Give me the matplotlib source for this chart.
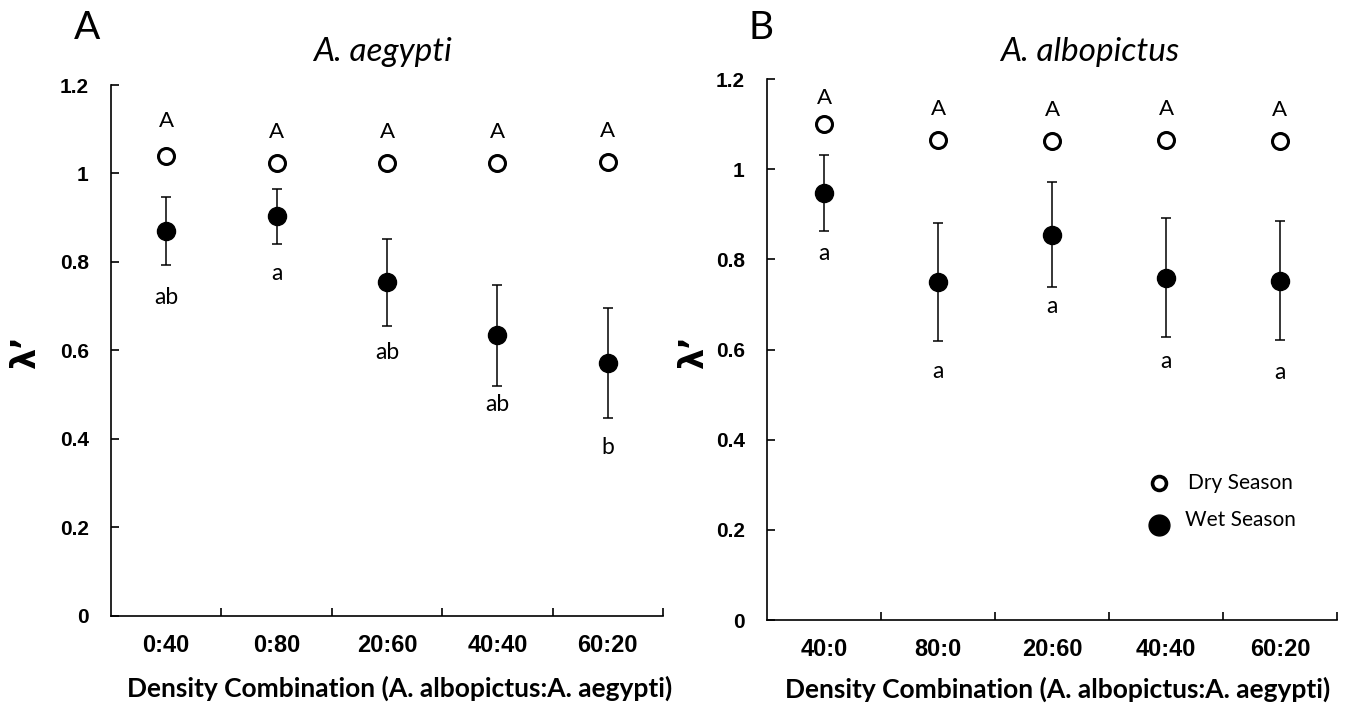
import matplotlib
matplotlib.use("Agg")
import matplotlib.pyplot as plt
from matplotlib.ticker import FixedLocator, NullFormatter

# ==========================================================
# Data
# ==========================================================

cats_a = ["0:40", "0:80", "20:60", "40:40", "60:20"]
dry_a = [1.040, 1.023, 1.023, 1.023, 1.026]
wet_a = [0.870, 0.903, 0.754, 0.634, 0.572]
wet_err_a = [0.076, 0.063, 0.099, 0.115, 0.124]
dry_let_a = ["A", "A", "A", "A", "A"]
wet_let_a = ["ab", "a", "ab", "ab", "b"]

cats_b = ["40:0", "80:0", "20:60", "40:40", "60:20"]
dry_b = [1.101, 1.064, 1.062, 1.064, 1.062]
wet_b = [0.947, 0.750, 0.855, 0.759, 0.753]
wet_err_b = [0.085, 0.131, 0.116, 0.132, 0.131]
dry_let_b = ["A", "A", "A", "A", "A"]
wet_let_b = ["a", "a", "a", "a", "a"]

yticks = [0, 0.2, 0.4, 0.6, 0.8, 1.0, 1.2]
ytick_labels = ["0", "0.2", "0.4", "0.6", "0.8", "1", "1.2"]

# letter offsets (pixels) from marker / error bar end
dry_gap_a = [35, 31, 31, 31, 31]
wet_gap_a = [33, 29, 26, 18, 30]
dry_gap_b = [26, 31, 31, 31, 31]
wet_gap_b = [22, 31, 20, 24, 33]

LETTER_FONT = ["Lato", "DejaVu Sans"]
TICK_FONT = ["Liberation Sans", "DejaVu Sans"]

# ==========================================================
# Figure
# ==========================================================

fig = plt.figure(figsize=(13.49, 7.06), dpi=100)
ax_a = fig.add_axes([0.0823, 0.1275, 0.4092, 0.7521])
ax_b = fig.add_axes([0.5686, 0.1218, 0.4225, 0.7663])


def draw_panel(ax, cats, dry, wet, wet_err, dry_let, wet_let, dry_gap, wet_gap, xlab_pos):
    xs = [i + 0.5 for i in range(len(cats))]

    ax.errorbar(xs, wet, yerr=wet_err, fmt="none", ecolor="black",
                elinewidth=1.1, capsize=3.3, capthick=1.1, zorder=2)
    ax.plot(xs, wet, "o", color="black", markersize=13, zorder=3)
    ax.plot(xs, dry, "o", markerfacecolor="white", markeredgecolor="black",
            markeredgewidth=2.2, markersize=11.5, zorder=3)

    for x, y, t, g in zip(xs, dry, dry_let, dry_gap):
        ax.annotate(t, xy=(x, y), xytext=(0, g), textcoords="offset pixels",
                    ha="center", va="center", fontsize=16, family=LETTER_FONT)
    for x, y, e, t, g in zip(xs, wet, wet_err, wet_let, wet_gap):
        ax.annotate(t, xy=(x, y - e), xytext=(0, -g), textcoords="offset pixels",
                    ha="center", va="center", fontsize=16.5, family=LETTER_FONT)

    ax.set_xlim(0, len(cats))
    ax.set_ylim(0, 1.2)
    for s in ["top", "right"]:
        ax.spines[s].set_visible(False)
    for s in ["left", "bottom"]:
        ax.spines[s].set_linewidth(1.2)

    ax.set_yticks(yticks)
    ax.set_yticklabels(ytick_labels, fontsize=15, fontweight="bold", family=TICK_FONT)
    ax.tick_params(axis="y", direction="in", length=6, width=1.2, pad=16)

    ax.xaxis.set_major_locator(FixedLocator(range(1, len(cats) + 1)))
    ax.xaxis.set_major_formatter(NullFormatter())
    ax.set_xticks(xs, minor=True)
    ax.set_xticklabels(cats, minor=True, fontsize=17, fontweight="bold", family=TICK_FONT)
    ax.tick_params(axis="x", which="major", direction="in", length=6, width=1.2)
    ax.tick_params(axis="x", which="minor", length=0, pad=13)

    ax.set_xlabel("Density Combination (A. albopictus:A. aegypti)", fontsize=19,
                  fontweight="bold", family=LETTER_FONT)
    ax.xaxis.set_label_coords(*xlab_pos)


draw_panel(ax_a, cats_a, dry_a, wet_a, wet_err_a, dry_let_a, wet_let_a,
           dry_gap_a, wet_gap_a, (0.522, -0.113))
draw_panel(ax_b, cats_b, dry_b, wet_b, wet_err_b, dry_let_b, wet_let_b,
           dry_gap_b, wet_gap_b, (0.509, -0.104))

# ==========================================================
# Titles, panel letters, y labels
# ==========================================================

fig.text(382 / 1349, 1 - 52 / 706, "A. aegypti", ha="center", va="center",
         fontsize=24, style="italic", family=LETTER_FONT)
fig.text(1090 / 1349, 1 - 52 / 706, "A. albopictus", ha="center", va="center",
         fontsize=24, style="italic", family=LETTER_FONT)

fig.text(87 / 1349, 1 - 28 / 706, "A", ha="center", va="center", fontsize=28,
         family=LETTER_FONT)
fig.text(761 / 1349, 1 - 28 / 706, "B", ha="center", va="center", fontsize=28,
         family=LETTER_FONT)

fig.text(26 / 1349, 1 - 352 / 706, "λ’", rotation=90, ha="center", va="center",
         fontsize=24, fontweight="bold", family=["DejaVu Sans"])
fig.text(694 / 1349, 1 - 352 / 706, "λ’", rotation=90, ha="center", va="center",
         fontsize=24, fontweight="bold", family=["DejaVu Sans"])

# ==========================================================
# Legend (panel B)
# ==========================================================

ax_b.plot([0.688], [0.253], "o", transform=ax_b.transAxes, markerfacecolor="white",
          markeredgecolor="black", markeredgewidth=2.6, markersize=10, clip_on=False)
ax_b.plot([0.688], [0.1756], "o", transform=ax_b.transAxes, color="black",
          markersize=15, clip_on=False)
ax_b.text(0.739, 0.253, "Dry Season", transform=ax_b.transAxes, ha="left",
          va="center", fontsize=15, family=LETTER_FONT)
ax_b.text(0.733, 0.185, "Wet Season", transform=ax_b.transAxes, ha="left",
          va="center", fontsize=15, family=LETTER_FONT)

plt.savefig("out.png", dpi=100)
